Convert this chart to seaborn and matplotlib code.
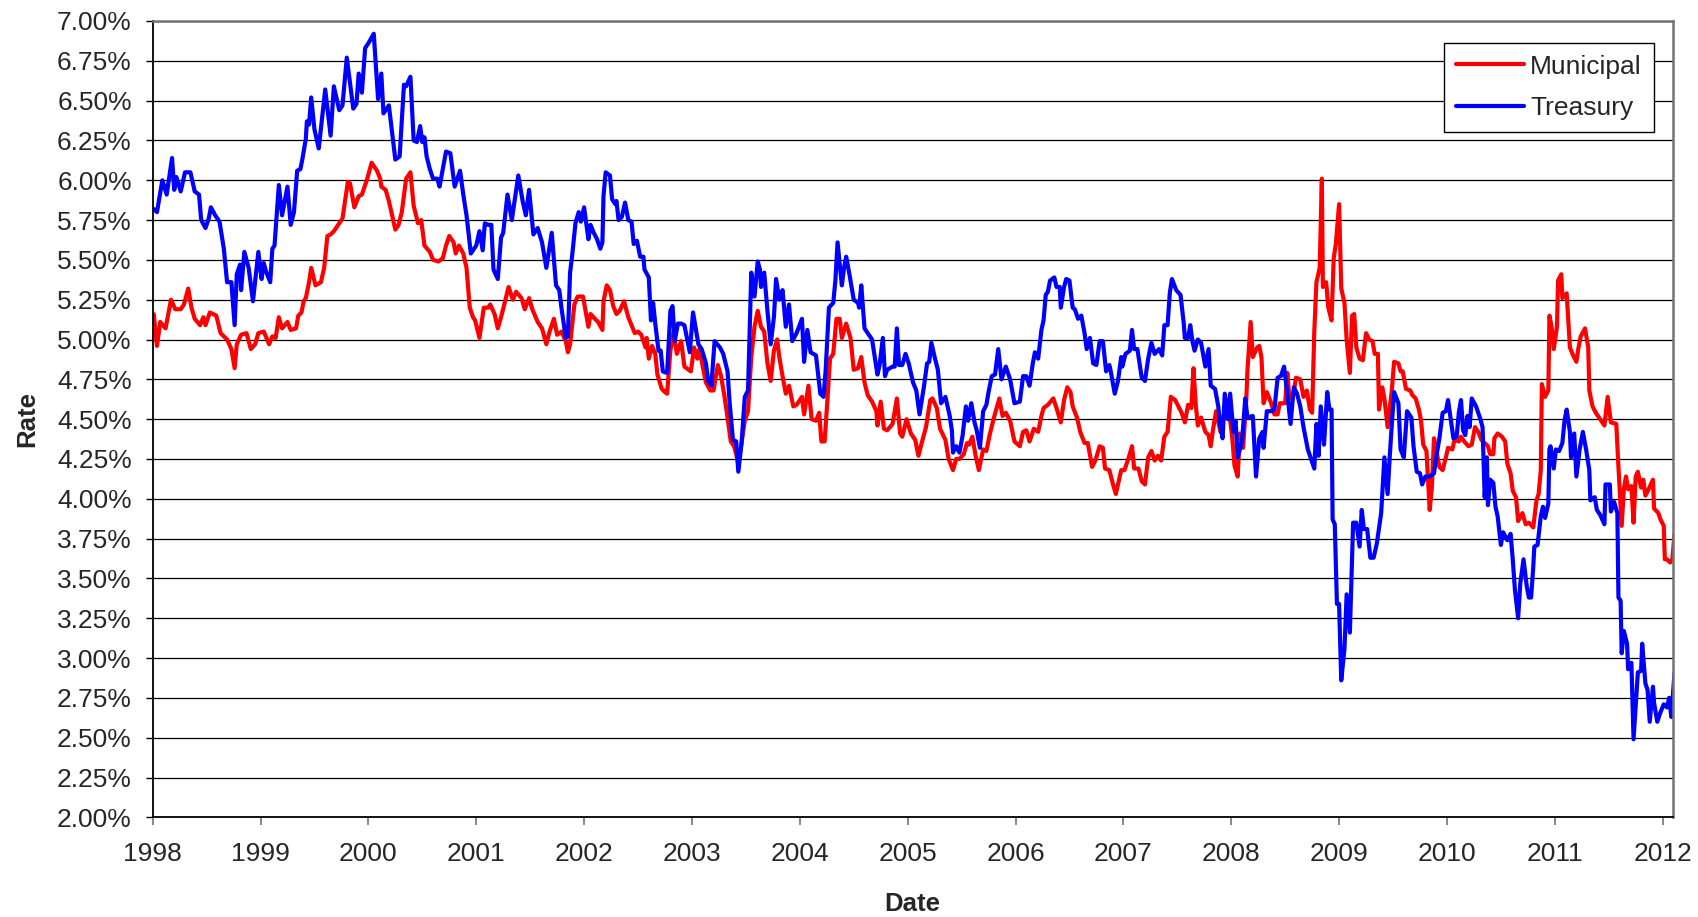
import numpy as np
import pandas as pd
import seaborn as sns
import matplotlib.pyplot as plt

# ============================================================
# DATA (decimal year, rate in %)
# ============================================================
muni_year = [
    1998.01, 1998.04, 1998.07, 1998.12, 1998.17, 1998.21, 1998.26, 1998.29, 1998.33, 1998.36, 1998.39, 1998.44, 1998.47,
    1998.49, 1998.53, 1998.59, 1998.63, 1998.69, 1998.73, 1998.76, 1998.78, 1998.82, 1998.87, 1998.91, 1998.95, 1998.98,
    1999.03, 1999.08, 1999.11, 1999.14, 1999.17, 1999.20, 1999.25, 1999.28, 1999.33, 1999.35, 1999.38, 1999.40, 1999.42,
    1999.45, 1999.47, 1999.51, 1999.56, 1999.59, 1999.62, 1999.65, 1999.68, 1999.72, 1999.76, 1999.81, 1999.83, 1999.87,
    1999.91, 1999.94, 1999.99,
    2000.03, 2000.08, 2000.11, 2000.12, 2000.16, 2000.19, 2000.22, 2000.25, 2000.28, 2000.31, 2000.35, 2000.39, 2000.42,
    2000.46, 2000.49, 2000.52, 2000.57, 2000.60, 2000.65, 2000.69, 2000.72, 2000.75, 2000.79, 2000.81, 2000.84, 2000.88,
    2000.91, 2000.94, 2000.97, 2000.99,
    2001.03, 2001.07, 2001.11, 2001.13, 2001.17, 2001.20, 2001.23, 2001.26, 2001.30, 2001.34, 2001.37, 2001.42, 2001.45,
    2001.49, 2001.52, 2001.57, 2001.61, 2001.65, 2001.68, 2001.72, 2001.75, 2001.79, 2001.83, 2001.85, 2001.87, 2001.91,
    2001.94, 2001.99,
    2002.04, 2002.06, 2002.10, 2002.13, 2002.17, 2002.18, 2002.21, 2002.24, 2002.27, 2002.30, 2002.33, 2002.37, 2002.41,
    2002.44, 2002.47, 2002.50, 2002.53, 2002.57, 2002.58, 2002.60, 2002.63, 2002.66, 2002.68, 2002.72, 2002.75, 2002.77,
    2002.80, 2002.83, 2002.86, 2002.90, 2002.93, 2002.97, 2002.99,
    2003.02, 2003.05, 2003.07, 2003.10, 2003.13, 2003.17, 2003.20, 2003.24, 2003.27, 2003.30, 2003.33, 2003.36, 2003.39,
    2003.41, 2003.43, 2003.46, 2003.49, 2003.52, 2003.55, 2003.58, 2003.61, 2003.64, 2003.67, 2003.70, 2003.73, 2003.76,
    2003.79, 2003.81, 2003.84, 2003.87, 2003.90, 2003.94, 2003.97,
    2004.02, 2004.04, 2004.08, 2004.11, 2004.15, 2004.18, 2004.20, 2004.23, 2004.26, 2004.28, 2004.31, 2004.34, 2004.37,
    2004.39, 2004.43, 2004.47, 2004.50, 2004.54, 2004.57, 2004.60, 2004.63, 2004.67, 2004.71, 2004.72, 2004.75, 2004.78,
    2004.81, 2004.86, 2004.90, 2004.93, 2004.95, 2004.99,
    2005.03, 2005.07, 2005.10, 2005.13, 2005.17, 2005.21, 2005.23, 2005.27, 2005.30, 2005.35, 2005.38, 2005.42, 2005.45,
    2005.48, 2005.52, 2005.55, 2005.57, 2005.60, 2005.63, 2005.66, 2005.70, 2005.73, 2005.76, 2005.80, 2005.85, 2005.88,
    2005.91, 2005.95, 2005.99,
    2006.04, 2006.07, 2006.10, 2006.13, 2006.17, 2006.21, 2006.24, 2006.26, 2006.30, 2006.35, 2006.38, 2006.42, 2006.45,
    2006.48, 2006.51, 2006.53, 2006.57, 2006.60, 2006.64, 2006.67, 2006.71, 2006.74, 2006.78, 2006.81, 2006.83, 2006.87,
    2006.90, 2006.93, 2006.96, 2006.98, 2007.01,
    2007.05, 2007.08, 2007.10, 2007.14, 2007.17, 2007.20, 2007.23, 2007.26, 2007.29, 2007.32, 2007.35, 2007.38, 2007.41,
    2007.44, 2007.48, 2007.51, 2007.54, 2007.57, 2007.60, 2007.63, 2007.65, 2007.67, 2007.69, 2007.72, 2007.76, 2007.79,
    2007.81, 2007.83, 2007.86, 2007.90, 2007.94, 2007.99, 2008.01, 2008.03,
    2008.06, 2008.08, 2008.11, 2008.14, 2008.15, 2008.18, 2008.20, 2008.24, 2008.26, 2008.28, 2008.30, 2008.33, 2008.37,
    2008.40, 2008.43, 2008.45, 2008.50, 2008.52, 2008.54, 2008.58, 2008.60, 2008.64, 2008.67, 2008.70, 2008.73, 2008.75,
    2008.77, 2008.79, 2008.82, 2008.84, 2008.85, 2008.88, 2008.90, 2008.93, 2008.95, 2008.97, 2009.00, 2009.02,
    2009.05, 2009.07, 2009.10, 2009.12, 2009.14, 2009.16, 2009.19, 2009.22, 2009.25, 2009.28, 2009.31, 2009.33, 2009.36,
    2009.37, 2009.40, 2009.42, 2009.45, 2009.49, 2009.51, 2009.55, 2009.57, 2009.59, 2009.62, 2009.66, 2009.68, 2009.71,
    2009.74, 2009.76, 2009.78, 2009.81, 2009.84, 2009.86, 2009.88, 2009.90, 2009.93, 2009.96, 2009.99, 2010.01,
    2010.05, 2010.07, 2010.11, 2010.13, 2010.16, 2010.20, 2010.23, 2010.26, 2010.29, 2010.32, 2010.35, 2010.38, 2010.40,
    2010.43, 2010.44, 2010.47, 2010.51, 2010.54, 2010.56, 2010.59, 2010.61, 2010.64, 2010.66, 2010.70, 2010.73, 2010.76,
    2010.80, 2010.83, 2010.85, 2010.87, 2010.88, 2010.91, 2010.94, 2010.95, 2010.97, 2010.99, 2011.02, 2011.03,
    2011.06, 2011.07, 2011.11, 2011.14, 2011.17, 2011.20, 2011.22, 2011.24, 2011.28, 2011.31, 2011.32, 2011.35, 2011.38,
    2011.43, 2011.46, 2011.49, 2011.52, 2011.57, 2011.59, 2011.62, 2011.64, 2011.66, 2011.68, 2011.71, 2011.73, 2011.75,
    2011.77, 2011.80, 2011.82, 2011.84, 2011.87, 2011.91, 2011.92, 2011.96, 2011.98, 2012.01, 2012.02, 2012.04, 2012.07,
    2012.09, 2012.11,
]
muni_rate = [
    5.16, 4.96, 5.11, 5.07, 5.25, 5.19, 5.19, 5.22, 5.32, 5.20, 5.13, 5.09, 5.14,
    5.09, 5.17, 5.15, 5.04, 5.00, 4.94, 4.82, 4.97, 5.03, 5.04, 4.94, 4.97, 5.04,
    5.05, 4.97, 5.02, 5.01, 5.14, 5.07, 5.11, 5.06, 5.07, 5.15, 5.17, 5.24, 5.26,
    5.36, 5.45, 5.34, 5.36, 5.45, 5.65, 5.66, 5.68, 5.72, 5.76, 5.99, 5.98, 5.83,
    5.90, 5.91, 6.01,
    6.11, 6.06, 6.01, 5.96, 5.94, 5.87, 5.78, 5.69, 5.72, 5.80, 6.01, 6.05, 5.84,
    5.73, 5.75, 5.59, 5.55, 5.50, 5.49, 5.51, 5.59, 5.65, 5.61, 5.54, 5.59, 5.54,
    5.45, 5.20, 5.14, 5.12,
    5.01, 5.20, 5.20, 5.22, 5.16, 5.07, 5.14, 5.22, 5.33, 5.25, 5.30, 5.26, 5.19,
    5.26, 5.19, 5.11, 5.07, 4.97, 5.05, 5.13, 5.03, 5.05, 4.99, 4.92, 4.97, 5.22,
    5.27, 5.27,
    5.08, 5.16, 5.13, 5.11, 5.06, 5.24, 5.34, 5.31, 5.21, 5.16, 5.18, 5.24, 5.14,
    5.09, 5.04, 5.05, 5.03, 4.95, 5.01, 4.88, 4.96, 4.91, 4.78, 4.69, 4.67, 4.66,
    4.93, 5.05, 4.91, 4.99, 4.83, 4.81, 4.80,
    4.95, 4.88, 4.94, 4.83, 4.73, 4.68, 4.68, 4.84, 4.77, 4.65, 4.51, 4.36, 4.33,
    4.28, 4.22, 4.35, 4.49, 4.55, 4.89, 5.08, 5.18, 5.08, 5.05, 4.85, 4.74, 4.93,
    5.00, 4.89, 4.77, 4.66, 4.71, 4.58, 4.59,
    4.64, 4.53, 4.71, 4.50, 4.49, 4.54, 4.36, 4.36, 4.66, 4.88, 4.91, 5.13, 5.13,
    5.01, 5.10, 5.01, 4.81, 4.82, 4.89, 4.73, 4.65, 4.61, 4.55, 4.46, 4.61, 4.44,
    4.43, 4.47, 4.63, 4.41, 4.39, 4.50,
    4.41, 4.37, 4.27, 4.35, 4.45, 4.62, 4.63, 4.57, 4.44, 4.37, 4.25, 4.18, 4.25,
    4.25, 4.28, 4.35, 4.34, 4.39, 4.27, 4.18, 4.31, 4.30, 4.40, 4.51, 4.63, 4.52,
    4.54, 4.49, 4.36,
    4.33, 4.42, 4.43, 4.36, 4.44, 4.42, 4.52, 4.57, 4.59, 4.63, 4.57, 4.48, 4.62,
    4.70, 4.67, 4.58, 4.51, 4.42, 4.35, 4.35, 4.20, 4.24, 4.33, 4.32, 4.19, 4.18,
    4.10, 4.03, 4.12, 4.18, 4.18,
    4.26, 4.33, 4.19, 4.19, 4.11, 4.09, 4.26, 4.30, 4.24, 4.27, 4.24, 4.39, 4.42,
    4.64, 4.62, 4.58, 4.54, 4.48, 4.59, 4.57, 4.82, 4.60, 4.46, 4.51, 4.42, 4.40,
    4.33, 4.43, 4.55, 4.42, 4.55, 4.49, 4.38, 4.21,
    4.14, 4.41, 4.32, 4.63, 4.80, 5.11, 4.89, 4.95, 4.96, 4.89, 4.60, 4.67, 4.60,
    4.53, 4.53, 4.60, 4.60, 4.79, 4.63, 4.67, 4.76, 4.75, 4.64, 4.68, 4.56, 4.54,
    5.05, 5.36, 5.45, 6.01, 5.33, 5.36, 5.20, 5.12, 5.51, 5.60, 5.85, 5.32,
    5.23, 5.00, 4.79, 5.15, 5.16, 4.95, 4.88, 4.87, 5.04, 5.00, 4.99, 4.91, 4.91,
    4.56, 4.70, 4.63, 4.45, 4.69, 4.86, 4.85, 4.80, 4.80, 4.69, 4.68, 4.65, 4.63,
    4.56, 4.49, 4.34, 4.30, 3.93, 4.07, 4.38, 4.31, 4.20, 4.18, 4.26, 4.32,
    4.31, 4.37, 4.36, 4.39, 4.36, 4.33, 4.34, 4.45, 4.42, 4.37, 4.35, 4.33, 4.28,
    4.28, 4.38, 4.41, 4.39, 4.36, 4.22, 4.16, 4.05, 4.01, 3.86, 3.91, 3.84, 3.85,
    3.82, 3.99, 4.03, 4.18, 4.72, 4.64, 4.68, 5.15, 5.08, 4.94, 5.08, 5.37,
    5.41, 5.26, 5.29, 4.95, 4.90, 4.86, 4.95, 5.02, 5.07, 4.95, 4.68, 4.58, 4.54,
    4.49, 4.46, 4.64, 4.48, 4.47, 4.20, 3.83, 4.06, 4.14, 4.06, 4.08, 3.85, 4.14,
    4.17, 4.07, 4.12, 4.02, 4.06, 4.12, 3.94, 3.91, 3.87, 3.83, 3.62, 3.62, 3.60,
    3.62, 3.78,
]

treas_year = [
    1998.01, 1998.04, 1998.09, 1998.13, 1998.18, 1998.20, 1998.22, 1998.26, 1998.30, 1998.35, 1998.39, 1998.43, 1998.45,
    1998.49, 1998.52, 1998.54, 1998.58, 1998.62, 1998.66, 1998.69, 1998.73, 1998.76, 1998.78, 1998.81, 1998.82, 1998.85,
    1998.89, 1998.93, 1998.98,
    1999.01, 1999.03, 1999.05, 1999.09, 1999.11, 1999.13, 1999.17, 1999.20, 1999.25, 1999.28, 1999.31, 1999.34, 1999.37,
    1999.39, 1999.42, 1999.43, 1999.45, 1999.47, 1999.50, 1999.54, 1999.60, 1999.65, 1999.68, 1999.73, 1999.76, 1999.80,
    1999.86, 1999.89, 1999.91, 1999.94, 1999.97, 2000.00,
    2000.05, 2000.09, 2000.12, 2000.14, 2000.19, 2000.23, 2000.25, 2000.29, 2000.33, 2000.35, 2000.39, 2000.42, 2000.45,
    2000.48, 2000.50, 2000.52, 2000.54, 2000.57, 2000.60, 2000.64, 2000.66, 2000.72, 2000.76, 2000.80, 2000.85, 2000.88,
    2000.91, 2000.95, 2001.00,
    2001.03, 2001.06, 2001.08, 2001.11, 2001.14, 2001.16, 2001.20, 2001.23, 2001.25, 2001.29, 2001.33, 2001.39, 2001.43,
    2001.46, 2001.49, 2001.53, 2001.57, 2001.61, 2001.65, 2001.70, 2001.74, 2001.77, 2001.79, 2001.83, 2001.85, 2001.87,
    2001.89, 2001.92, 2001.95, 2001.97, 2002.00,
    2002.04, 2002.06, 2002.09, 2002.12, 2002.15, 2002.17, 2002.18, 2002.20, 2002.24, 2002.26, 2002.29, 2002.30, 2002.32,
    2002.35, 2002.38, 2002.41, 2002.44, 2002.46, 2002.49, 2002.52, 2002.55, 2002.56, 2002.60, 2002.62, 2002.64, 2002.66,
    2002.69, 2002.71, 2002.73, 2002.77, 2002.80, 2002.82, 2002.84, 2002.87, 2002.90, 2002.93, 2002.98, 2003.01,
    2003.06, 2003.09, 2003.13, 2003.15, 2003.18, 2003.21, 2003.26, 2003.29, 2003.33, 2003.35, 2003.38, 2003.41, 2003.43,
    2003.46, 2003.49, 2003.52, 2003.55, 2003.58, 2003.61, 2003.63, 2003.64, 2003.67, 2003.70, 2003.73, 2003.76, 2003.78,
    2003.81, 2003.84, 2003.87, 2003.90, 2003.93, 2003.97,
    2004.02, 2004.04, 2004.07, 2004.10, 2004.15, 2004.19, 2004.22, 2004.24, 2004.27, 2004.31, 2004.33, 2004.35, 2004.39,
    2004.41, 2004.43, 2004.46, 2004.50, 2004.54, 2004.55, 2004.57, 2004.60, 2004.63, 2004.67, 2004.72, 2004.74, 2004.77,
    2004.79, 2004.81, 2004.86, 2004.88, 2004.90, 2004.92, 2004.95, 2004.98, 2005.01,
    2005.05, 2005.08, 2005.11, 2005.15, 2005.18, 2005.20, 2005.22, 2005.25, 2005.28, 2005.31, 2005.35, 2005.39, 2005.41,
    2005.42, 2005.45, 2005.48, 2005.51, 2005.54, 2005.56, 2005.59, 2005.62, 2005.64, 2005.67, 2005.70, 2005.73, 2005.75,
    2005.78, 2005.81, 2005.84, 2005.87, 2005.91, 2005.95, 2005.99,
    2006.04, 2006.07, 2006.10, 2006.13, 2006.16, 2006.18, 2006.21, 2006.24, 2006.26, 2006.28, 2006.30, 2006.32, 2006.36,
    2006.38, 2006.41, 2006.42, 2006.45, 2006.47, 2006.50, 2006.53, 2006.55, 2006.58, 2006.61, 2006.64, 2006.66, 2006.69,
    2006.72, 2006.75, 2006.78, 2006.81, 2006.84, 2006.87, 2006.88, 2006.92, 2006.95, 2006.98, 2006.99, 2007.02,
    2007.06, 2007.08, 2007.10, 2007.13, 2007.17, 2007.20, 2007.23, 2007.26, 2007.29, 2007.33, 2007.36, 2007.38, 2007.41,
    2007.43, 2007.45, 2007.49, 2007.53, 2007.56, 2007.57, 2007.60, 2007.62, 2007.64, 2007.66, 2007.69, 2007.72, 2007.76,
    2007.79, 2007.81, 2007.85, 2007.88, 2007.90, 2007.92, 2007.94, 2007.97, 2007.99, 2008.02,
    2008.04, 2008.06, 2008.10, 2008.13, 2008.15, 2008.20, 2008.23, 2008.26, 2008.29, 2008.30, 2008.33, 2008.37, 2008.40,
    2008.43, 2008.46, 2008.49, 2008.52, 2008.55, 2008.58, 2008.61, 2008.64, 2008.67, 2008.71, 2008.77, 2008.79, 2008.81,
    2008.83, 2008.86, 2008.89, 2008.91, 2008.93, 2008.94, 2008.96, 2008.98, 2009.00, 2009.02,
    2009.05, 2009.07, 2009.10, 2009.13, 2009.16, 2009.19, 2009.21, 2009.23, 2009.26, 2009.29, 2009.32, 2009.35, 2009.39,
    2009.42, 2009.45, 2009.47, 2009.49, 2009.51, 2009.55, 2009.57, 2009.60, 2009.63, 2009.67, 2009.69, 2009.72, 2009.75,
    2009.77, 2009.80, 2009.84, 2009.88, 2009.90, 2009.93, 2009.96, 2009.99, 2010.01,
    2010.06, 2010.09, 2010.11, 2010.13, 2010.15, 2010.17, 2010.19, 2010.21, 2010.23, 2010.27, 2010.31, 2010.33, 2010.35,
    2010.37, 2010.38, 2010.40, 2010.43, 2010.45, 2010.47, 2010.50, 2010.52, 2010.56, 2010.59, 2010.61, 2010.63, 2010.66,
    2010.68, 2010.71, 2010.74, 2010.76, 2010.78, 2010.80, 2010.81, 2010.84, 2010.87, 2010.89, 2010.91, 2010.94, 2010.95,
    2010.96, 2010.99, 2011.01, 2011.04,
    2011.07, 2011.09, 2011.11, 2011.14, 2011.15, 2011.18, 2011.20, 2011.23, 2011.26, 2011.29, 2011.32, 2011.33, 2011.37,
    2011.39, 2011.42, 2011.46, 2011.47, 2011.51, 2011.52, 2011.55, 2011.58, 2011.59, 2011.61, 2011.62, 2011.64, 2011.67,
    2011.68, 2011.71, 2011.73, 2011.75, 2011.77, 2011.80, 2011.81, 2011.84, 2011.86, 2011.88, 2011.91, 2011.92, 2011.95,
    2011.98, 2012.01, 2012.04, 2012.06, 2012.08, 2012.11,
]
treas_rate = [
    5.82, 5.80, 6.00, 5.91, 6.14, 5.94, 6.02, 5.93, 6.05, 6.05, 5.93, 5.91, 5.75,
    5.70, 5.76, 5.83, 5.78, 5.74, 5.57, 5.36, 5.36, 5.09, 5.41, 5.47, 5.31, 5.55,
    5.45, 5.24, 5.55,
    5.38, 5.48, 5.43, 5.36, 5.57, 5.59, 5.97, 5.78, 5.96, 5.72, 5.80, 6.06, 6.07,
    6.14, 6.26, 6.37, 6.35, 6.52, 6.32, 6.20, 6.57, 6.28, 6.59, 6.44, 6.47, 6.77,
    6.45, 6.48, 6.67, 6.55, 6.83, 6.86,
    6.92, 6.51, 6.67, 6.42, 6.47, 6.24, 6.13, 6.15, 6.60, 6.59, 6.65, 6.25, 6.24,
    6.34, 6.24, 6.27, 6.15, 6.07, 6.01, 6.01, 5.96, 6.18, 6.17, 5.96, 6.06, 5.91,
    5.78, 5.54, 5.59,
    5.68, 5.56, 5.73, 5.72, 5.72, 5.44, 5.38, 5.64, 5.67, 5.91, 5.75, 6.03, 5.87,
    5.78, 5.94, 5.66, 5.70, 5.61, 5.45, 5.67, 5.34, 5.31, 5.20, 5.01, 5.02, 5.42,
    5.53, 5.73, 5.80, 5.74, 5.83,
    5.63, 5.72, 5.67, 5.63, 5.57, 5.61, 5.90, 6.05, 6.03, 5.88, 5.85, 5.87, 5.75,
    5.77, 5.86, 5.75, 5.74, 5.60, 5.62, 5.52, 5.52, 5.44, 5.39, 5.12, 5.23, 5.10,
    4.93, 4.93, 4.80, 4.79, 5.18, 5.21, 4.99, 5.10, 5.10, 5.09, 4.92, 5.17,
    4.97, 4.94, 4.85, 4.74, 4.71, 4.99, 4.95, 4.91, 4.80, 4.60, 4.37, 4.36, 4.17,
    4.35, 4.64, 4.68, 5.42, 5.27, 5.49, 5.44, 5.33, 5.42, 5.18, 4.97, 5.14, 5.38,
    5.25, 5.31, 5.08, 5.22, 4.99, 5.04,
    5.13, 4.86, 5.06, 4.92, 4.90, 4.66, 4.64, 4.81, 5.20, 5.23, 5.37, 5.61, 5.34,
    5.45, 5.52, 5.41, 5.25, 5.23, 5.20, 5.34, 5.07, 5.04, 5.00, 4.78, 4.84, 5.01,
    4.77, 4.81, 4.83, 4.83, 5.07, 4.84, 4.84, 4.91, 4.85,
    4.73, 4.68, 4.53, 4.70, 4.85, 4.86, 4.98, 4.89, 4.81, 4.60, 4.64, 4.52, 4.43,
    4.29, 4.33, 4.29, 4.40, 4.58, 4.49, 4.60, 4.48, 4.43, 4.32, 4.55, 4.59, 4.67,
    4.77, 4.78, 4.94, 4.75, 4.83, 4.75, 4.60,
    4.61, 4.77, 4.77, 4.71, 4.85, 4.92, 4.88, 5.06, 5.12, 5.28, 5.30, 5.37, 5.39,
    5.33, 5.33, 5.20, 5.33, 5.38, 5.37, 5.20, 5.19, 5.13, 5.15, 5.04, 4.94, 5.01,
    4.85, 4.84, 4.99, 4.99, 4.80, 4.84, 4.81, 4.66, 4.74, 4.89, 4.83, 4.91,
    4.93, 5.06, 4.94, 4.94, 4.76, 4.74, 4.88, 4.98, 4.91, 4.94, 4.90, 5.09, 5.09,
    5.29, 5.38, 5.31, 5.28, 5.10, 5.01, 5.01, 5.09, 4.99, 4.93, 5.00, 4.98, 4.83,
    4.94, 4.71, 4.69, 4.58, 4.45, 4.38, 4.66, 4.50, 4.66, 4.42,
    4.49, 4.26, 4.36, 4.63, 4.51, 4.52, 4.14, 4.38, 4.42, 4.32, 4.55, 4.55, 4.56,
    4.76, 4.77, 4.83, 4.66, 4.47, 4.70, 4.66, 4.58, 4.45, 4.31, 4.19, 4.47, 4.27,
    4.58, 4.34, 4.67, 4.56, 4.56, 3.87, 3.84, 3.34, 3.34, 2.86,
    3.06, 3.40, 3.16, 3.85, 3.85, 3.70, 3.93, 3.81, 3.81, 3.63, 3.63, 3.72, 3.91,
    4.26, 4.03, 4.27, 4.48, 4.67, 4.60, 4.31, 4.26, 4.55, 4.51, 4.33, 4.17, 4.16,
    4.09, 4.14, 4.14, 4.16, 4.26, 4.38, 4.54, 4.55, 4.62,
    4.38, 4.39, 4.54, 4.62, 4.43, 4.40, 4.52, 4.45, 4.63, 4.58, 4.50, 4.45, 4.01,
    4.26, 3.96, 4.12, 4.10, 3.95, 3.89, 3.71, 3.79, 3.74, 3.78, 3.62, 3.43, 3.25,
    3.47, 3.62, 3.45, 3.38, 3.38, 3.57, 3.70, 3.71, 3.89, 3.95, 3.88, 3.97, 4.31,
    4.33, 4.19, 4.31, 4.30,
    4.35, 4.49, 4.56, 4.42, 4.26, 4.41, 4.14, 4.31, 4.42, 4.31, 4.18, 3.99, 4.01,
    3.93, 3.90, 3.84, 4.09, 4.09, 3.92, 3.98, 3.91, 3.38, 3.36, 3.03, 3.17, 3.09,
    2.93, 2.97, 2.49, 2.70, 2.91, 2.92, 3.09, 2.84, 2.80, 2.60, 2.82, 2.72, 2.60,
    2.66, 2.71, 2.69, 2.75, 2.63, 2.91,
]

assert len(muni_year) == len(muni_rate)
assert len(treas_year) == len(treas_rate)

year_ticks = list(range(1998, 2013))
rate_ticks = np.arange(2.0, 7.01, 0.25)

# ============================================================
# PLOT
# ============================================================
sns.set_style("white")
plt.rcParams["font.family"] = ["Liberation Sans", "DejaVu Sans"]

fig = plt.figure(figsize=(16.98, 9.17), dpi=100)
ax = fig.add_axes([0.0899, 0.1087, 0.8952, 0.8684])

sns.lineplot(x=muni_year, y=muni_rate, color="#FF0000", linewidth=3.0,
             estimator=None, sort=False, label="Municipal", ax=ax)
sns.lineplot(x=treas_year, y=treas_rate, color="#0000FF", linewidth=3.0,
             estimator=None, sort=False, label="Treasury", ax=ax)

ax.set_xlim(1998, 2012.093)
ax.set_ylim(2.0, 7.0)
ax.set_xticks(year_ticks)
ax.set_xticklabels([str(y) for y in year_ticks])
ax.set_yticks(rate_ticks)
ax.set_yticklabels([f"{v:.2f}%" for v in rate_ticks])

ax.yaxis.grid(True, color="black", linewidth=0.9)
ax.xaxis.grid(False)
ax.set_axisbelow(True)

for side in ["left", "bottom"]:
    ax.spines[side].set_color("black")
    ax.spines[side].set_linewidth(1.3)
for side in ["top", "right"]:
    ax.spines[side].set_color("0.45")
    ax.spines[side].set_linewidth(1.8)

ax.tick_params(axis="y", direction="out", length=5, width=1, color="black",
               labelsize=19, pad=10, left=True)
ax.tick_params(axis="x", direction="out", length=5.5, width=1.2, color="0.45",
               labelsize=19, pad=12, bottom=True)

ax.set_xlabel("Date", fontsize=18.5, fontweight="bold", va="center")
ax.xaxis.set_label_coords(0.5, -0.109)
ax.set_ylabel("Rate", fontsize=18.5, fontweight="bold", va="center", ha="center")
ax.yaxis.set_label_coords(-0.0827, 0.5)

leg = ax.legend(loc="upper right", bbox_to_anchor=(0.9875, 0.9727), borderaxespad=0,
                fontsize=19, frameon=True, fancybox=False, framealpha=1,
                edgecolor="black", handlelength=2.55, handletextpad=0.25,
                borderpad=0.45, labelspacing=0.65)
leg.get_frame().set_linewidth(1.0)

fig.savefig("out.png", dpi=100)
